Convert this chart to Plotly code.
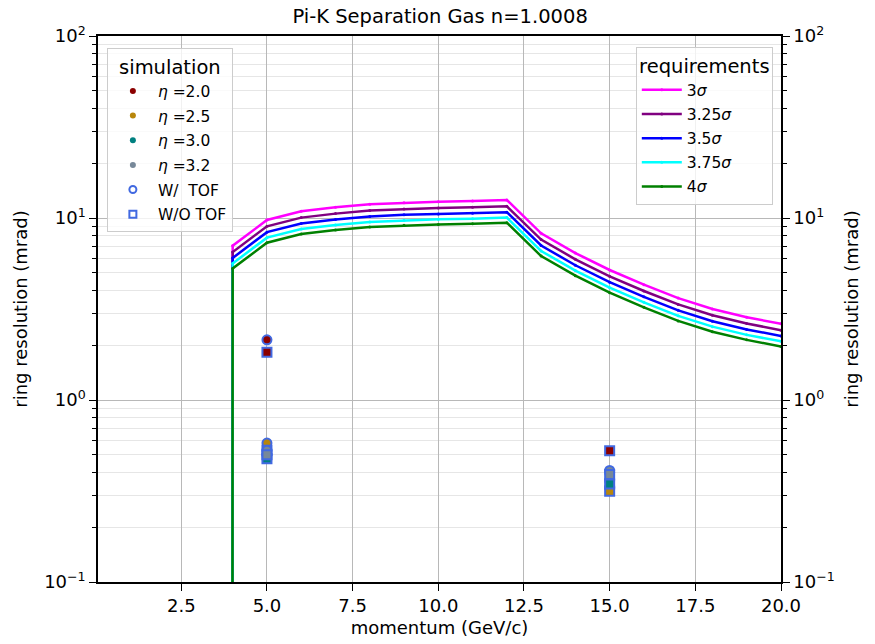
import plotly.graph_objects as go

# ---------------- data ----------------
momentum = [1, 2, 3, 4, 5, 6, 7, 8, 9, 10, 11, 12, 13, 14, 15, 16, 17, 18, 19, 20]

# requirement curves (mrad); 0 below pion threshold
req_3 = [0, 0, 0, 7.04, 9.75, 10.89, 11.45, 11.89, 12.14, 12.29, 12.40, 12.56,
         8.24, 6.42, 5.18, 4.30, 3.63, 3.16, 2.85, 2.62]
req_325 = [0, 0, 0, 6.50, 9.00, 10.05, 10.57, 10.98, 11.21, 11.34, 11.45, 11.59,
           7.61, 5.93, 4.78, 3.97, 3.35, 2.92, 2.63, 2.42]
req_35 = [0, 0, 0, 6.03, 8.36, 9.33, 9.81, 10.19, 10.41, 10.53, 10.63, 10.77,
          7.06, 5.50, 4.44, 3.69, 3.11, 2.71, 2.44, 2.25]
req_375 = [0, 0, 0, 5.63, 7.80, 8.71, 9.16, 9.51, 9.71, 9.83, 9.92, 10.05,
           6.59, 5.14, 4.14, 3.44, 2.90, 2.53, 2.28, 2.10]
req_4 = [0, 0, 0, 5.28, 7.31, 8.17, 8.59, 8.92, 9.11, 9.22, 9.30, 9.42,
         6.18, 4.82, 3.89, 3.23, 2.72, 2.37, 2.14, 1.97]

req_names = ["3<i>σ</i>", "3.25<i>σ</i>", "3.5<i>σ</i>", "3.75<i>σ</i>", "4<i>σ</i>"]
req_colors = ["#ff00ff", "#800080", "#0000ff", "#00ffff", "#008000"]
req_series = [req_3, req_325, req_35, req_375, req_4]

# simulation points
sim_momentum = [5, 15]
eta_labels = ["<i>η</i> =2.0", "<i>η</i> =2.5", "<i>η</i> =3.0", "<i>η</i> =3.2"]
eta_colors = ["#8b0000", "#b8860b", "#008080", "#778899"]
res_with_tof = [[2.14, 0.40], [0.58, 0.33], [0.50, 0.36], [0.53, 0.41]]
res_without_tof = [[1.83, 0.527], [0.53, 0.315], [0.475, 0.345], [0.50, 0.39]]

edge_blue = "#4169e1"
FONT = "DejaVu Sans"
LOG_FLOOR = 1e-300  # like matplotlib's clipping of non-positive values

fig = go.Figure()

# simulation markers
for i in range(len(eta_labels)):
    fig.add_trace(go.Scatter(
        x=sim_momentum, y=res_with_tof[i], mode="markers", showlegend=False,
        marker=dict(symbol="circle", size=9, color=eta_colors[i],
                    line=dict(color=edge_blue, width=2))))
    fig.add_trace(go.Scatter(
        x=sim_momentum, y=res_without_tof[i], mode="markers", showlegend=False,
        marker=dict(symbol="square", size=9, color=eta_colors[i],
                    line=dict(color=edge_blue, width=2))))

# requirement curves
for k, (name, col, vals) in enumerate(zip(req_names, req_colors, req_series)):
    yv = [v if v > 0 else LOG_FLOOR for v in vals]
    fig.add_trace(go.Scatter(
        x=momentum, y=yv, mode="lines+markers", name=name, legend="legend2",
        legendgroup="r%d" % k,
        line=dict(color=col, width=2.5), marker=dict(size=3, color=col)))

# legend proxies for simulation
for k, (lab, col) in enumerate(zip(eta_labels, eta_colors)):
    fig.add_trace(go.Scatter(x=[None], y=[None], mode="markers", name=lab,
                             legend="legend", legendgroup="s%d" % k,
                             marker=dict(size=6, color=col)))
fig.add_trace(go.Scatter(x=[None], y=[None], mode="markers", name="W/  TOF",
                         legend="legend", legendgroup="s4",
                         marker=dict(symbol="circle-open", size=7, color=edge_blue,
                                     line=dict(width=2))))
fig.add_trace(go.Scatter(x=[None], y=[None], mode="markers", name="W/O TOF",
                         legend="legend", legendgroup="s5",
                         marker=dict(symbol="square-open", size=7, color=edge_blue,
                                     line=dict(width=2))))

# invisible trace so the right axis is drawn
fig.add_trace(go.Scatter(x=momentum, y=[v if v > 0 else LOG_FLOOR for v in req_3],
                         yaxis="y2", mode="lines", opacity=0, showlegend=False,
                         hoverinfo="skip"))

ytickvals = [0.1, 1, 10, 100]
yticktext = ["10<sup>−1</sup>", "10<sup>0</sup>", "10<sup>1</sup>", "10<sup>2</sup>"]
yminor = [m * 10 ** e for e in (-1, 0, 1) for m in range(2, 10)]
yrange = [-1, 2]

common_y = dict(type="log", range=yrange, tickmode="array", tickvals=ytickvals,
                ticktext=yticktext, ticks="outside", ticklen=7, tickwidth=1.3,
                tickcolor="black", showline=True, linecolor="black", linewidth=1.5,
                tickfont=dict(size=18, color="black", family=FONT),
                title=dict(text="ring resolution (mrad)", standoff=12,
                           font=dict(size=18, color="black", family=FONT)),
                minor=dict(tickmode="array", tickvals=yminor, ticks="outside",
                           ticklen=4, tickcolor="black", showgrid=True,
                           gridcolor="#e6e6e6", gridwidth=1),
                zeroline=False, automargin=False)

fig.update_layout(
    width=875, height=644,
    margin=dict(l=98, r=94, t=36, b=62),
    plot_bgcolor="white", paper_bgcolor="white",
    font=dict(family=FONT, color="black"),
    title=dict(text="Pi-K Separation Gas n=1.0008", x=0.503, xanchor="center",
               y=0.975, yref="container", yanchor="middle",
               font=dict(size=19.5, color="black", family=FONT)),
    xaxis=dict(range=[0.07, 20], tickmode="array",
               tickvals=[2.5, 5, 7.5, 10, 12.5, 15, 17.5, 20],
               ticktext=["2.5", "5.0", "7.5", "10.0", "12.5", "15.0", "17.5", "20.0"],
               ticks="outside", ticklen=7, tickwidth=1.3, tickcolor="black",
               showline=True, linecolor="black", linewidth=1.5, mirror=True,
               showgrid=True, gridcolor="#b8b8b8", gridwidth=1.3, zeroline=False,
               automargin=False,
               tickfont=dict(size=18, color="black", family=FONT),
               title=dict(text="momentum (GeV/c)", standoff=6,
                          font=dict(size=18, color="black", family=FONT))),
    yaxis=dict(**common_y, side="left", showgrid=True, gridcolor="#b8b8b8",
               gridwidth=1.3),
    yaxis2=dict(**common_y, side="right", overlaying="y", showgrid=False),
    legend=dict(title=dict(text="simulation", side="top center",
                           font=dict(size=19.5, family=FONT)),
                x=0.013, y=0.978, xanchor="left", yanchor="top",
                bgcolor="rgba(255,255,255,0.8)", bordercolor="#cccccc",
                borderwidth=1, font=dict(size=15.5, family=FONT),
                traceorder="grouped", tracegroupgap=1.5, itemwidth=40),
    legend2=dict(title=dict(text="requirements", side="top center",
                            font=dict(size=19.5, family=FONT)),
                 x=0.988, y=0.98, xanchor="right", yanchor="top",
                 bgcolor="rgba(255,255,255,0.8)", bordercolor="#cccccc",
                 borderwidth=1, font=dict(size=15.5, family=FONT),
                 traceorder="grouped", tracegroupgap=1, itemwidth=40),
)

fig.write_html("out.html")
